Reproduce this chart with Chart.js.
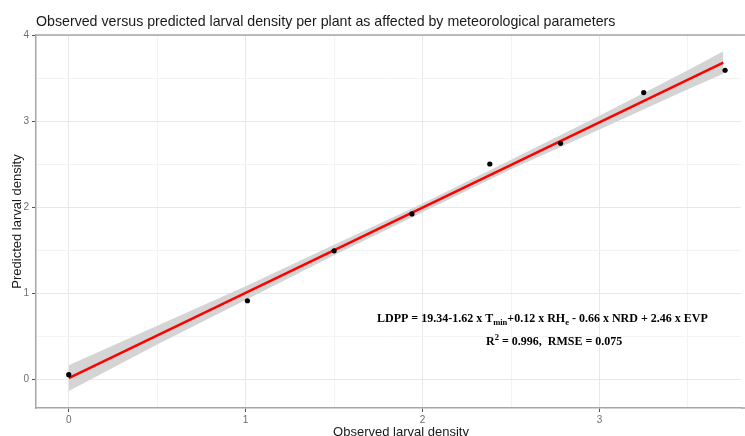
<!DOCTYPE html>
<html>
<head>
<meta charset="utf-8">
<script src="https://cdn.jsdelivr.net/npm/chart.js@4"></script>
<style>
  html, body { margin: 0; padding: 0; background: #fff; overflow: hidden; }
  #wrap { width: 745px; height: 436px; }
</style>
</head>
<body>
<div id="wrap"><canvas id="graficoLarvas"></canvas></div>
<script>
// values
const observed = [0, 1.01, 1.50, 1.94, 2.38, 2.78, 3.25, 3.71];
const predicted = [0.05, 0.91, 1.49, 1.92, 2.50, 2.74, 3.33, 3.59];

const fitX = [0, 3.70];
const fitY = [0.01, 3.68];

const bandX = [0, 0.5, 1, 1.5, 2, 2.5, 3, 3.5, 3.70];
const bandUpper = [0.16, 0.62, 1.08, 1.56, 2.04, 2.55, 3.06, 3.59, 3.81];
const bandLower = [-0.14, 0.40, 0.92, 1.44, 1.94, 2.44, 2.90, 3.37, 3.55];

const xTicks = [0, 1, 2, 3];
const yTicks = [0, 1, 2, 3, 4];

const titulo = "Observed versus predicted larval density per plant as affected by meteorological parameters";
const xTitulo = "Observed larval density";
const yTitulo = "Predicted larval density";
const ecuacion = [["LDPP = 19.34-1.62 x T", ""], ["min", "sub"], ["+0.12 x RH", ""], ["e", "sub"], [" - 0.66 x NRD + 2.46 x EVP", ""]];
const ajuste = [["R", ""], ["2", "sup"], [" = 0.996,  RMSE = 0.075", ""]];

const pares = (xs, ys) => xs.map((x, i) => ({ x: x, y: ys[i] }));

const esEntero = (v) => Math.abs(v - Math.round(v)) < 1e-6;

const dibujarRico = (ctx, partes, x, y) => {
  let cx = x;
  partes.forEach(([txt, tipo]) => {
    if (tipo === "sub") {
      ctx.font = 'bold 8.5px "Liberation Serif"';
      ctx.fillText(txt, cx, y + 3);
    } else if (tipo === "sup") {
      ctx.font = 'bold 8.5px "Liberation Serif"';
      ctx.fillText(txt, cx, y - 5);
    } else {
      ctx.font = 'bold 12px "Liberation Serif"';
      ctx.fillText(txt, cx, y);
    }
    cx += ctx.measureText(txt).width;
  });
};

const decorado = {
  id: "decorado",
  afterDraw(chart) {
    const ctx = chart.ctx;
    const a = chart.chartArea;
    ctx.save();
    // panel border: top line, and axis lines run to the picture edge
    ctx.strokeStyle = "#a6a6a6";
    ctx.lineWidth = 1.5;
    ctx.beginPath();
    ctx.moveTo(a.left, a.top);
    ctx.lineTo(chart.width, a.top);
    ctx.moveTo(a.right, a.bottom);
    ctx.lineTo(chart.width, a.bottom);
    ctx.stroke();

    ctx.fillStyle = "#1a1a1a";
    ctx.textBaseline = "alphabetic";
    ctx.textAlign = "left";
    ctx.font = '14.2px "Liberation Sans"';
    ctx.fillText(titulo, 36, 26);

    ctx.font = '13px "Liberation Sans"';
    ctx.textAlign = "center";
    ctx.fillText(xTitulo, 401, 435.5);
    ctx.save();
    ctx.translate(21, (a.top + a.bottom) / 2);
    ctx.rotate(-Math.PI / 2);
    ctx.fillText(yTitulo, 0, 0);
    ctx.restore();

    ctx.textAlign = "left";
    ctx.fillStyle = "#000";
    dibujarRico(ctx, ecuacion, 377, 322);
    dibujarRico(ctx, ajuste, 486, 345);
    ctx.restore();
  },
};

const gridColor = (c) => (esEntero(c.tick.value) ? "#e8e8e8" : "#f3f3f3");
const tickColor = (c) => (esEntero(c.tick.value) ? "#555" : "rgba(0,0,0,0)");

new Chart(document.getElementById("graficoLarvas"), {
  type: "line",
  data: {
    datasets: [
      {
        label: "lower",
        data: pares(bandX, bandLower),
        borderWidth: 0,
        pointRadius: 0,
        fill: false,
        order: 3,
      },
      {
        label: "upper",
        data: pares(bandX, bandUpper),
        borderWidth: 0,
        pointRadius: 0,
        backgroundColor: "#d4d4d4",
        fill: "-1",
        order: 2,
      },
      {
        label: "fit",
        data: pares(fitX, fitY),
        borderColor: "#ff0000",
        borderWidth: 2.5,
        pointRadius: 0,
        fill: false,
        order: 1,
      },
      {
        label: "points",
        data: pares(observed, predicted),
        showLine: false,
        pointRadius: 2.6,
        pointBackgroundColor: "#000",
        pointBorderWidth: 0,
        order: 0,
      },
    ],
  },
  options: {
    responsive: true,
    maintainAspectRatio: false,
    animation: false,
    events: [],
    layout: { padding: { top: 35, right: 0, left: 0, bottom: 0 } },
    plugins: { legend: { display: false }, tooltip: { enabled: false }, title: { display: false } },
    scales: {
      x: {
        type: "linear",
        min: -0.185,
        max: 3.80,
        afterFit: (s) => { s.height = 28; },
        border: { color: "#a6a6a6", width: 1.5 },
        grid: { color: gridColor, tickColor: tickColor, tickLength: 4, lineWidth: 1 },
        ticks: {
          stepSize: 0.5,
          includeBounds: false,
          autoSkip: false,
          maxRotation: 0,
          color: "#6e6e6e",
          font: { family: "Liberation Sans", size: 10 },
          padding: 2,
          callback: (v) => (xTicks.includes(v) ? String(v) : ""),
        },
      },
      y: {
        type: "linear",
        min: -0.337,
        max: 4,
        afterFit: (s) => { s.width = 36; },
        border: { color: "#a6a6a6", width: 1.5 },
        grid: { color: gridColor, tickColor: tickColor, tickLength: 4, lineWidth: 1 },
        ticks: {
          stepSize: 0.5,
          includeBounds: false,
          autoSkip: false,
          color: "#6e6e6e",
          font: { family: "Liberation Sans", size: 10 },
          padding: 3,
          callback: (v) => (yTicks.includes(v) ? String(v) : ""),
        },
      },
    },
  },
  plugins: [decorado],
});
</script>
</body>
</html>
